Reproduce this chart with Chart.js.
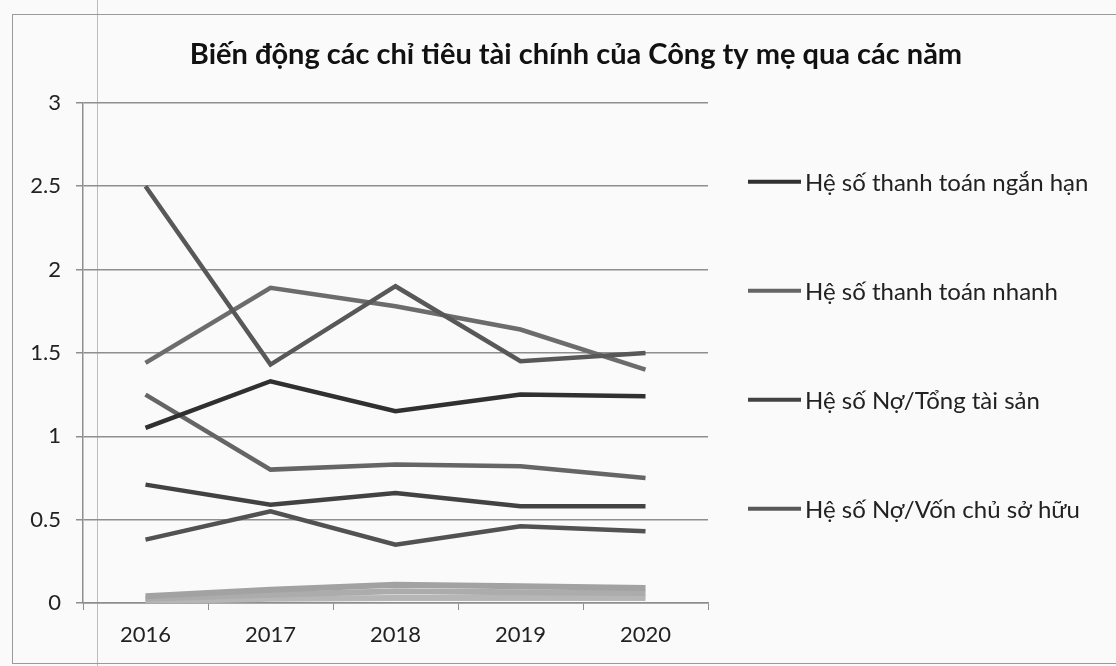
<!DOCTYPE html>
<html>
<head>
<meta charset="utf-8">
<script src="https://cdn.jsdelivr.net/npm/chart.js@4.4.1/dist/chart.umd.min.js"></script>
<style>
  html, body { margin: 0; padding: 0; background: #fafafa; }
  #wrap { position: relative; width: 1116px; height: 666px; overflow: hidden; }
  #wrap canvas { position: absolute; left: 0; top: 0; }
  .rule { position: absolute; background: #9a9a9a; }
</style>
</head>
<body>
<div id="wrap">
  <!-- page edges from the scan -->
  <div class="rule" style="left:97px; top:0; width:1px; height:666px; background:#bcbcbc"></div>
  <div class="rule" style="left:12px; top:14px; width:1104px; height:1px;"></div>
  <div class="rule" style="left:12px; top:14px; width:1px; height:650px;"></div>
  <div class="rule" style="left:12px; top:663px; width:1104px; height:1px;"></div>
  <canvas id="chart" width="1116" height="666"></canvas>
</div>
<script>
  const years = ['2016', '2017', '2018', '2019', '2020'];
  const yTickLabels = ['0', '0.5', '1', '1.5', '2', '2.5', '3'];
  const seriesNames = [
    'Hệ số thanh toán ngắn hạn',
    'Hệ số thanh toán nhanh',
    'Hệ số Nợ/Tổng tài sản',
    'Hệ số Nợ/Vốn chủ sở hữu',
  ];

  // the four series named in the legend
  const thanhToanNganHan = [1.05, 1.33, 1.15, 1.25, 1.24];
  const thanhToanNhanh   = [1.25, 0.80, 0.83, 0.82, 0.75];
  const noTongTaiSan     = [0.71, 0.59, 0.66, 0.58, 0.58];
  const noVonChuSoHuu    = [2.50, 1.43, 1.90, 1.45, 1.50];

  // further lines whose legend entries are cut off in the source
  const extraA = [1.44, 1.89, 1.78, 1.64, 1.40];
  const extraB = [0.38, 0.55, 0.35, 0.46, 0.43];
  const extraC = [0.04, 0.08, 0.11, 0.10, 0.09];
  const extraD = [0.025, 0.05, 0.07, 0.065, 0.06];
  const extraE = [0.01, 0.025, 0.03, 0.03, 0.03];

  const grid = '#8e8e8e';
  const ink = '#222';

  const line = (label, data, color, width) => ({
    label, data, borderColor: color, backgroundColor: color,
    borderWidth: width || 4.5, pointRadius: 0, tension: 0, fill: false,
  });

  // legend drawn down the right side, one entry per named series
  const sideLegend = {
    id: 'sideLegend',
    afterDraw(chart) {
      const { ctx, chartArea } = chart;
      const x0 = chartArea.right + 40;
      ctx.save();
      ctx.font = '24px Lato';
      ctx.textBaseline = 'middle';
      ctx.textAlign = 'left';
      seriesNames.forEach((name, i) => {
        const ds = chart.data.datasets[i];
        const y = chartArea.top + 79 + i * 109;
        ctx.strokeStyle = ds.borderColor;
        ctx.lineWidth = 4;
        ctx.beginPath();
        ctx.moveTo(x0, y);
        ctx.lineTo(x0 + 53, y);
        ctx.stroke();
        ctx.fillStyle = ink;
        ctx.fillText(name, x0 + 57, y + 1);
      });
      ctx.restore();
    },
  };

  Chart.defaults.font.family = 'Lato';

  new Chart(document.getElementById('chart').getContext('2d'), {
    type: 'line',
    data: {
      labels: years,
      datasets: [
        line(seriesNames[0], thanhToanNganHan, '#303030'),
        line(seriesNames[1], thanhToanNhanh, '#656565'),
        line(seriesNames[2], noTongTaiSan, '#424242'),
        line(seriesNames[3], noVonChuSoHuu, '#585858'),
        line('', extraA, '#6c6c6c'),
        line('', extraB, '#525252'),
        line('', extraC, '#a2a2a2', 6),
        line('', extraD, '#acacac', 6),
        line('', extraE, '#b6b6b6', 6),
      ],
    },
    options: {
      responsive: false,
      animation: false,
      layout: { padding: { left: 24, right: -12, top: 0, bottom: 0 } },
      plugins: {
        legend: { display: false },
        tooltip: { enabled: false },
        title: {
          display: true,
          text: 'Biến động các chỉ tiêu tài chính của Công ty mẹ qua các năm',
          color: '#111',
          font: { family: 'Lato', size: 29, weight: 'bold' },
          padding: { top: 37, bottom: 31 },
        },
      },
      scales: {
        x: {
          offset: true,
          grid: { display: true, offset: true, drawOnChartArea: false, tickLength: 7, color: grid },
          border: { color: grid, width: 1.5 },
          ticks: { color: ink, font: { size: 22 }, padding: 12 },
          afterFit: (s) => { s.height = 63; },
        },
        y: {
          min: 0,
          max: 3,
          ticks: {
            stepSize: 0.5,
            color: ink,
            font: { size: 22 },
            padding: 15,
            callback: (v, i) => yTickLabels[i],
          },
          grid: { color: grid, lineWidth: 1.5, tickLength: 7 },
          border: { color: grid, width: 1.5 },
          afterFit: (s) => { s.width = 59; },
        },
        legendSpace: {
          type: 'linear',
          position: 'right',
          grid: { display: false },
          ticks: { display: false },
          border: { display: false },
          afterFit: (s) => { s.width = 420; },
        },
      },
    },
    plugins: [sideLegend],
  });
</script>
</body>
</html>
